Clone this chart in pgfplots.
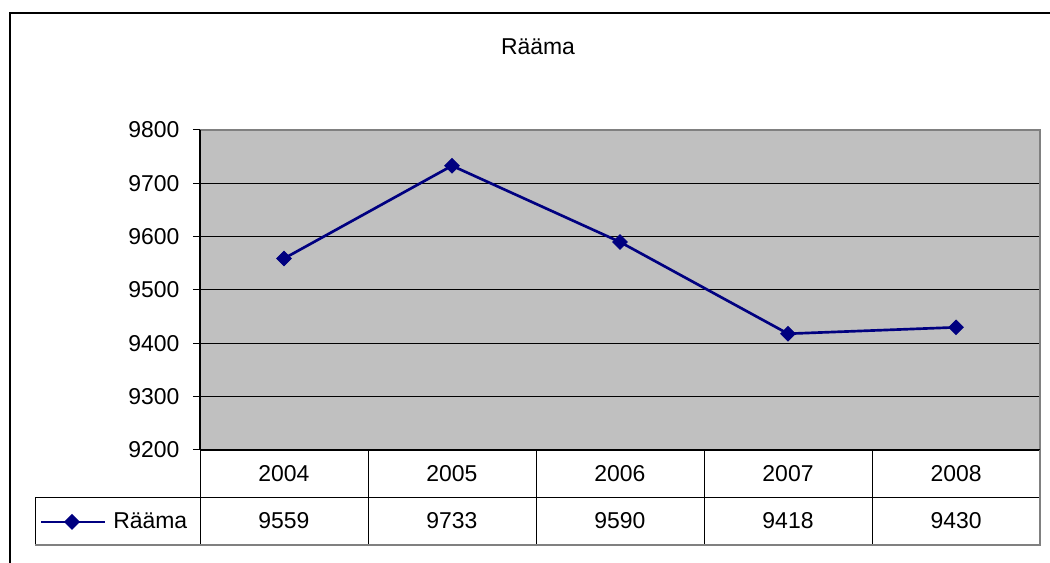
\documentclass[border=0pt]{standalone}
\usepackage{pgfplots}
\pgfplotsset{compat=1.18}
\usepackage{fontspec}
\setmainfont{Liberation Sans}
\definecolor{navyline}{HTML}{000080}
\definecolor{plotbg}{HTML}{C0C0C0}
\definecolor{bordergray}{HTML}{808080}
\begin{document}
\fontsize{17.2pt}{20pt}\selectfont
\begin{tikzpicture}[x=0.75pt,y=0.75pt]
\path[use as bounding box] (0,0) rectangle (1050,563);
% outer chart border
\draw[line width=1.6pt] (10,-17) -- (10,550) -- (1070,550);
% title
\node at (538,516) {Rääma};
\begin{axis}[
  at={(200pt*0.75,113pt*0.75)}, anchor=south west,
  scale only axis, width=630pt, height=240pt,
  xmin=-0.5, xmax=4.5, ymin=9200, ymax=9800,
  ytick={9200,9300,...,9800},
  xtick=\empty,
  ymajorgrids,
  grid style={black, line width=0.75pt},
  axis background/.style={fill=plotbg},
  axis line style={draw=none},
  tick align=outside, ytick pos=left,
  major tick length=5.25pt,
  tick style={black, line width=0.75pt},
  /pgf/number format/assume math mode=true,
  /pgf/number format/1000 sep={},
  yticklabel style={anchor=east, inner sep=0pt, xshift=-10pt, font=\fontsize{17.2pt}{20pt}\selectfont},
  clip=false,
]
\addplot[navyline, line width=2pt, mark=square*, mark size=3.9pt,
  mark options={solid, rotate=45, fill=navyline, line width=0.5pt}]
  coordinates {(0,9559) (1,9733) (2,9590) (3,9418) (4,9430)};
\draw[bordergray, line width=1.5pt] (rel axis cs:0,1) -- (rel axis cs:1,1) -- (rel axis cs:1,0);
\draw[black, line width=0.9pt] (rel axis cs:0,0) -- (rel axis cs:0,1);
\draw[black, line width=1.2pt] (rel axis cs:0,0) -- (rel axis cs:1,0);
\end{axis}
% data table
\foreach \xx in {200,368,536,704,872}{
  \draw[black, line width=0.75pt] (\xx,113) -- (\xx,18);
}
\draw[black, line width=0.75pt] (35,65) -- (1040,65);
\draw[black, line width=0.75pt] (35,65) -- (35,18);
\draw[bordergray, line width=1.5pt] (35,18) -- (1041,18);
\draw[bordergray, line width=1.5pt] (1040,113) -- (1040,17);
\foreach \yr/\val [count=\i from 0] in {2004/9559,2005/9733,2006/9590,2007/9418,2008/9430}{
  \node at ({284+168*\i},89) {\yr};
  \node at ({284+168*\i},42) {\val};
}
% legend key
\draw[navyline, line width=1.5pt] (41,41) -- (105,41);
\fill[navyline] (72,49) -- (80,41) -- (72,33) -- (64,41) -- cycle;
\node[anchor=west, inner sep=0pt] at (113,42) {Rääma};
\end{tikzpicture}
\end{document}
